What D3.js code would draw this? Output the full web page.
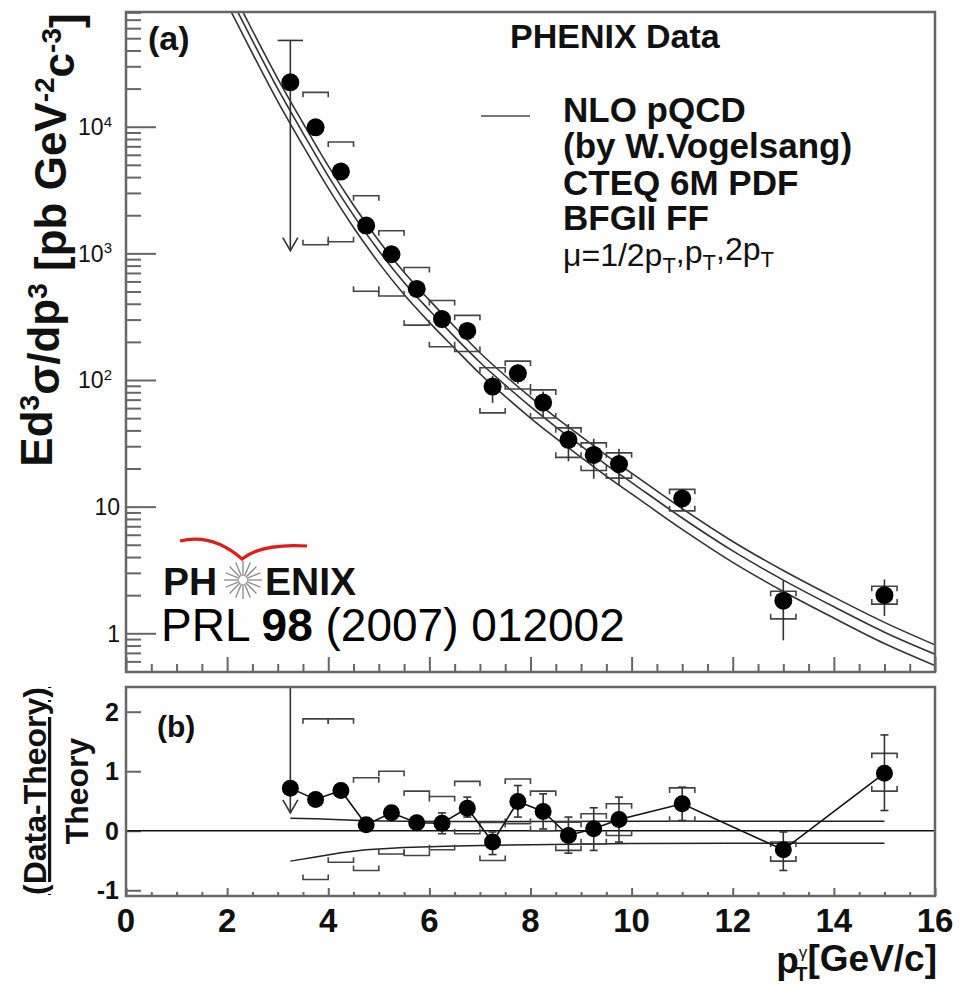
<!DOCTYPE html>
<html>
<head>
<meta charset="utf-8">
<script src="https://cdn.jsdelivr.net/npm/d3@7"></script>
<style>
  body { margin: 0; background: #fff; }
  svg { display: block; font-family: "Liberation Sans", Arial, Helvetica, sans-serif; }
</style>
</head>
<body>
<script>
// ---- measured points (PHENIX direct photons) ----
var pt      = [3.25, 3.75, 4.25, 4.75, 5.25, 5.75, 6.25, 6.75, 7.25, 7.75, 8.25, 8.75, 9.25, 9.75, 11, 13, 15];
var upperLimit = [1, 0, 0, 0, 0, 0, 0, 0, 0, 0, 0, 0, 0, 0, 0, 0, 0];
var xsec    = [22400, 9890, 4420, 1656, 984, 524, 303, 244, 88.7, 113, 66.4, 33.7, 25.6, 21.7, 11.6, 1.81, 2.0];
var statHi  = [48000, null, null, null, null, null, 350, 277, 108, 134, 81, 45, 34.4, 28.6, 13.8, 2.6, 2.66];
var statLo  = [1050, null, null, null, null, null, 256, 218, 66, 93.5, 51.6, 22.8, 16.6, 14.8, 9.36, 0.88, 1.37];
var sysHi   = [null, 18680, 7574, 2848, 1510, 773, 424, 324, 125, 141, 83.5, 41.9, 31.9, 26.6, 13.7, 2.15, 2.35];
var sysLo   = [null, 1168, 1236, 502, 461, 271, 183, 168, 55, 85, 50.1, 24.5, 19.3, 16.8, 9.26, 1.30, 1.70];

// ---- (Data-Theory)/Theory ----
var ratio   = [0.716, 0.526, 0.677, 0.10, 0.302, 0.134, 0.128, 0.38, -0.19, 0.49, 0.324, -0.079, 0.034, 0.19, 0.454, -0.32, 0.968];
var rStatHi = [2.8, null, null, null, null, null, 0.30, 0.565, -0.02, 0.76, 0.62, 0.23, 0.386, 0.565, 0.733, -0.02, 1.61];
var rStatLo = [0.3, null, null, null, null, null, -0.05, 0.23, -0.40, 0.23, 0.03, -0.376, -0.33, -0.19, 0.173, -0.667, 0.34];
var rSysHi  = [null, 1.88, 1.88, 0.89, 1.0, 0.666, 0.576, 0.83, 0.14, 0.87, 0.666, 0.145, 0.286, 0.454, 0.72, -0.19, 1.30];
var rSysLo  = [null, -0.82, -0.53, -0.667, -0.39, -0.415, -0.32, -0.05, -0.5, 0.12, 0.0, -0.33, -0.22, -0.08, 0.16, -0.51, 0.666];

// ---- NLO pQCD curves (mu = pT, 1/2 pT, 2 pT) ----
var thPt  = [2, 2.5, 3, 3.5, 4, 4.5, 5, 5.5, 6, 6.5, 7, 7.5, 8, 8.5, 9, 9.5, 10, 11, 12, 13, 14, 15, 16];
var thMid = [117500, 47860, 19950, 8913, 4074, 1995, 1047, 589, 355, 219, 138, 91.2, 61.7, 42.7, 30.2, 21.4, 15.5, 8.13, 4.47, 2.63, 1.62, 1.02, 0.684];
var thHi  = [141000, 57500, 24000, 10700, 4900, 2400, 1260, 708, 427, 263, 164, 108, 73.3, 50.7, 35.9, 25.4, 18.4, 9.66, 5.31, 3.13, 1.93, 1.22, 0.81];
var thLo  = [93300, 38000, 15850, 7080, 3270, 1600, 841, 473, 285, 178, 112, 74.1, 50.1, 34.7, 24.5, 17.4, 12.6, 6.61, 3.63, 2.14, 1.32, 0.83, 0.556];

// scale uncertainty band in the ratio panel
var bandPt = [3.25, 3.75, 4.25, 4.75, 5.5, 6.5, 8, 10, 12, 15];
var bandHi = [0.21, 0.20, 0.185, 0.17, 0.16, 0.155, 0.155, 0.16, 0.16, 0.16];
var bandLo = [-0.51, -0.44, -0.37, -0.32, -0.28, -0.255, -0.235, -0.215, -0.21, -0.21];

// ---- axes ----
var xTickVals  = [0, 2, 4, 6, 8, 10, 12, 14, 16];
var yTopTicks  = [1, 10, 100, 1000, 10000];
var yTopLabels = [["1", ""], ["10", ""], ["10", "2"], ["10", "3"], ["10", "4"]];
var yBotTicks  = [-1, 0, 1, 2];
var yBotLabels = ["-1", "0", "1", "2"];
var legendLines = ["NLO pQCD", "(by W.Vogelsang)", "CTEQ 6M PDF", "BFGII FF"];

var W = 970, H = 986;
var L = 126, R = 935;
var topY0 = 12, topY1 = 672, botY0 = 687, botY1 = 896;
var frameCol = "#666", inkCol = "#111";

var svg = d3.select("body").append("svg")
  .attr("width", W).attr("height", H);

var x = d3.scaleLinear().domain([0, 16]).range([L, R]);
var yTop = d3.scaleLog().domain([0.4947, 80500]).range([topY1, topY0]);
var yBot = d3.scaleLinear().domain([-1.096, 2.415]).range([botY1, botY0]);

var defs = svg.append("defs");
defs.append("clipPath").attr("id", "clipTop").append("rect")
  .attr("x", L).attr("y", topY0).attr("width", R - L).attr("height", topY1 - topY0);
defs.append("clipPath").attr("id", "clipBot").append("rect")
  .attr("x", L).attr("y", botY0).attr("width", R - L).attr("height", botY1 - botY0);

//========== TOP PANEL ==========
var gTop = svg.append("g");

// ticks on the left axis (inside the frame)
var minorTop = [];
[0.1, 1, 10, 100, 1000, 10000].forEach(function(d) {
  for (var k = 2; k <= 9; k++) {
    var v = d * k;
    if (v > yTop.domain()[0] && v < yTop.domain()[1]) minorTop.push(v);
  }
});
gTop.append("g").attr("transform", "translate(" + L + ",0)")
  .call(d3.axisRight(yTop).tickValues(minorTop).tickSize(15).tickFormat(""))
  .call(function(g) { g.select(".domain").remove(); g.selectAll("line").attr("stroke", frameCol).attr("stroke-width", 2); });
gTop.append("g").attr("transform", "translate(" + L + ",0)")
  .call(d3.axisRight(yTop).tickValues(yTopTicks).tickSize(30).tickFormat(""))
  .call(function(g) { g.select(".domain").remove(); g.selectAll("line").attr("stroke", frameCol).attr("stroke-width", 2); });

// ticks on the bottom axis (pointing up)
var xMinor = d3.range(0.5, 16, 0.5).filter(function(v) { return v % 2 !== 0; });
function xTicks(g, y0, bigLen, smallLen) {
  g.append("g").attr("transform", "translate(0," + y0 + ")")
    .call(d3.axisTop(x).tickValues(xMinor).tickSize(smallLen).tickFormat(""))
    .call(function(s) { s.select(".domain").remove(); s.selectAll("line").attr("stroke", frameCol).attr("stroke-width", 2); });
  g.append("g").attr("transform", "translate(0," + y0 + ")")
    .call(d3.axisTop(x).tickValues(xTickVals).tickSize(bigLen).tickFormat(""))
    .call(function(s) { s.select(".domain").remove(); s.selectAll("line").attr("stroke", frameCol).attr("stroke-width", 2); });
}
xTicks(gTop, topY1, 15, 8);

// y tick labels with powers of ten
yTopTicks.forEach(function(v, i) {
  var lab = yTopLabels[i];
  var t = gTop.append("text")
    .attr("x", lab[1] ? 112 : 120).attr("y", yTop(v)).attr("dy", "0.36em")
    .attr("text-anchor", "end").style("font-size", "23px").attr("fill", inkCol)
    .text(lab[0]);
  if (lab[1]) {
    t.append("tspan").attr("dy", "-0.55em").style("font-size", "15px").text(lab[1]);
  }
});

// theory curves
var thLine = d3.line()
  .x(function(d) { return x(d[0]); })
  .y(function(d) { return yTop(d[1]); })
  .curve(d3.curveMonotoneX);
var curves = gTop.append("g").attr("clip-path", "url(#clipTop)");
[thHi, thMid, thLo].forEach(function(arr) {
  curves.append("path")
    .attr("d", thLine(thPt.map(function(p, i) { return [p, arr[i]]; })))
    .attr("fill", "none").attr("stroke", "#333").attr("stroke-width", 1.6);
});

// data: systematic brackets, statistical bars, markers
var marks = gTop.append("g").attr("clip-path", "url(#clipTop)");
function bracket(g, xc, yPix, dir) {
  var x0 = x(xc - 0.25), x1 = x(xc + 0.25);
  g.append("path")
    .attr("d", "M" + x0 + "," + (yPix + dir * 5) + "L" + x0 + "," + yPix + "L" + x1 + "," + yPix + "L" + x1 + "," + (yPix + dir * 5))
    .attr("fill", "none").attr("stroke", "#444").attr("stroke-width", 1.6);
}
function arrowHead(g, xp, yp) {
  g.append("path")
    .attr("d", "M" + (xp - 7.5) + "," + (yp - 13) + "L" + xp + "," + yp + "L" + (xp + 7.5) + "," + (yp - 13))
    .attr("fill", "none").attr("stroke", "#333").attr("stroke-width", 1.6);
}

pt.forEach(function(p, i) {
  var xp = x(p);
  if (sysHi[i] != null) bracket(marks, p, yTop(sysHi[i]), 1);
  if (sysLo[i] != null) bracket(marks, p, yTop(sysLo[i]), -1);
  if (statHi[i] != null) {
    marks.append("line")
      .attr("x1", xp).attr("x2", xp)
      .attr("y1", yTop(statHi[i])).attr("y2", yTop(statLo[i]))
      .attr("stroke", "#333").attr("stroke-width", 1.6);
  }
  if (upperLimit[i]) {
    marks.append("line")
      .attr("x1", x(p - 0.25)).attr("x2", x(p + 0.25))
      .attr("y1", yTop(statHi[i])).attr("y2", yTop(statHi[i]))
      .attr("stroke", "#333").attr("stroke-width", 1.6);
    arrowHead(marks, xp, yTop(statLo[i]));
  }
});
marks.selectAll("circle").data(pt).enter().append("circle")
  .attr("cx", function(d) { return x(d); })
  .attr("cy", function(d, i) { return yTop(xsec[i]); })
  .attr("r", 9).attr("fill", "#000");

// frame
gTop.append("rect").attr("x", L).attr("y", topY0).attr("width", R - L).attr("height", topY1 - topY0)
  .attr("fill", "none").attr("stroke", frameCol).attr("stroke-width", 2.5);

// y title
var yt = svg.append("text")
  .attr("transform", "translate(52,240) rotate(-90)")
  .attr("text-anchor", "middle")
  .style("font-size", "44px").style("font-weight", "bold").attr("fill", inkCol);
yt.append("tspan").text("Ed");
yt.append("tspan").attr("dy", "-0.45em").style("font-size", "28px").text("3");
yt.append("tspan").attr("dy", "0.45em").text("\u03C3/dp");
yt.append("tspan").attr("dy", "-0.45em").style("font-size", "28px").text("3");
yt.append("tspan").attr("dy", "0.45em").text(" [pb GeV");
yt.append("tspan").attr("dy", "-0.45em").style("font-size", "28px").text("-2");
yt.append("tspan").attr("dy", "0.45em").text("c");
yt.append("tspan").attr("dy", "-0.45em").style("font-size", "28px").text("-3");
yt.append("tspan").attr("dy", "0.45em").text("]");

// panel label and legend
svg.append("text").attr("x", 148).attr("y", 50)
  .style("font-size", "34px").style("font-weight", "bold").attr("fill", inkCol).text("(a)");
svg.append("text").attr("x", 510).attr("y", 48)
  .style("font-size", "34px").style("font-weight", "bold").attr("fill", inkCol).text("PHENIX Data");
svg.append("line").attr("x1", 481).attr("x2", 530).attr("y1", 116).attr("y2", 116)
  .attr("stroke", "#777").attr("stroke-width", 2);
var legBase = [122, 158, 195, 230];
legendLines.forEach(function(s, i) {
  svg.append("text").attr("x", 563).attr("y", legBase[i])
    .style("font-size", "35px").style("font-weight", "bold").attr("fill", inkCol).text(s);
});
var mu = svg.append("text").attr("x", 563).attr("y", 266)
  .style("font-size", "32px").attr("fill", inkCol);
mu.append("tspan").text("\u03BC=1/2p");
mu.append("tspan").attr("dy", "0.3em").style("font-size", "22px").text("T");
mu.append("tspan").attr("dy", "-0.3em").text(",p");
mu.append("tspan").attr("dy", "0.3em").style("font-size", "22px").text("T");
mu.append("tspan").attr("dy", "-0.3em").text(",2p");
mu.append("tspan").attr("dy", "0.3em").style("font-size", "22px").text("T");

// PHENIX logo
var logo = svg.append("g");
logo.append("path")
  .attr("d", "M180,541 C205,535 226,545 242,559 C256,548 276,544 307,546")
  .attr("fill", "none").attr("stroke", "#e41a1a").attr("stroke-width", 3.2);
logo.append("text").attr("x", 163).attr("y", 595)
  .style("font-size", "39px").style("font-weight", "bold").attr("fill", "#111").text("PH");
logo.append("text").attr("x", 265).attr("y", 595)
  .style("font-size", "39px").style("font-weight", "bold").attr("fill", "#111").text("ENIX");
d3.range(16).forEach(function(k) {
  var a = k * Math.PI / 8;
  logo.append("line")
    .attr("x1", 243 + 4 * Math.cos(a)).attr("y1", 580 + 4 * Math.sin(a))
    .attr("x2", 243 + 19 * Math.cos(a)).attr("y2", 580 + 19 * Math.sin(a))
    .attr("stroke", "#888").attr("stroke-width", 1.3);
});
var prl = svg.append("text").attr("x", 161).attr("y", 641)
  .style("font-size", "46px").attr("fill", "#000");
prl.append("tspan").text("PRL ");
prl.append("tspan").style("font-weight", "bold").text("98");
prl.append("tspan").text(" (2007) 012002");

//========== BOTTOM PANEL ==========
var gBot = svg.append("g");
xTicks(gBot, botY1, 8, 4);
gBot.append("g").attr("transform", "translate(" + L + ",0)")
  .call(d3.axisRight(yBot).tickValues(yBotTicks).tickSize(15).tickFormat(""))
  .call(function(g) { g.select(".domain").remove(); g.selectAll("line").attr("stroke", frameCol).attr("stroke-width", 2); });

yBotTicks.forEach(function(v, i) {
  gBot.append("text").attr("x", 119).attr("y", yBot(v)).attr("dy", "0.36em")
    .attr("text-anchor", "end").style("font-size", "25px").style("font-weight", "bold")
    .attr("fill", inkCol).text(yBotLabels[i]);
});

var bmarks = gBot.append("g").attr("clip-path", "url(#clipBot)");
bmarks.append("line").attr("x1", L).attr("x2", R).attr("y1", yBot(0)).attr("y2", yBot(0))
  .attr("stroke", "#111").attr("stroke-width", 1.6);

var bandLine = d3.line()
  .x(function(d) { return x(d[0]); })
  .y(function(d) { return yBot(d[1]); });
[bandHi, bandLo].forEach(function(arr) {
  bmarks.append("path")
    .attr("d", bandLine(bandPt.map(function(p, i) { return [p, arr[i]]; })))
    .attr("fill", "none").attr("stroke", "#222").attr("stroke-width", 1.5);
});

pt.forEach(function(p, i) {
  var xp = x(p);
  if (rSysHi[i] != null) bracket(bmarks, p, yBot(rSysHi[i]), 1);
  if (rSysLo[i] != null) bracket(bmarks, p, yBot(rSysLo[i]), -1);
  if (rStatHi[i] != null) {
    bmarks.append("line")
      .attr("x1", xp).attr("x2", xp)
      .attr("y1", yBot(rStatHi[i])).attr("y2", yBot(rStatLo[i]))
      .attr("stroke", "#333").attr("stroke-width", 1.6);
    if (upperLimit[i]) {
      arrowHead(bmarks, xp, yBot(rStatLo[i]));
    } else {
      [rStatHi[i], rStatLo[i]].forEach(function(v) {
        bmarks.append("line").attr("x1", xp - 4).attr("x2", xp + 4)
          .attr("y1", yBot(v)).attr("y2", yBot(v))
          .attr("stroke", "#333").attr("stroke-width", 1.6);
      });
    }
  }
});

bmarks.append("path")
  .attr("d", d3.line()
    .x(function(d) { return x(d); })
    .y(function(d, i) { return yBot(ratio[i]); })(pt))
  .attr("fill", "none").attr("stroke", "#111").attr("stroke-width", 1.6);
bmarks.selectAll("circle").data(pt).enter().append("circle")
  .attr("cx", function(d) { return x(d); })
  .attr("cy", function(d, i) { return yBot(ratio[i]); })
  .attr("r", 8.5).attr("fill", "#000");

gBot.append("rect").attr("x", L).attr("y", botY0).attr("width", R - L).attr("height", botY1 - botY0)
  .attr("fill", "none").attr("stroke", frameCol).attr("stroke-width", 2.5);

svg.append("text").attr("x", 157).attr("y", 737)
  .style("font-size", "30px").style("font-weight", "bold").attr("fill", inkCol).text("(b)");

// x tick labels
xTickVals.forEach(function(v) {
  svg.append("text").attr("x", x(v)).attr("y", 932)
    .attr("text-anchor", "middle").style("font-size", "33px").style("font-weight", "bold")
    .attr("fill", inkCol).text(v);
});

// x title: p with gamma above and T below, then the unit
var xt = svg.append("text").attr("x", 937).attr("y", 973)
  .attr("text-anchor", "end").style("font-size", "37px").style("font-weight", "bold").attr("fill", inkCol);
xt.append("tspan").text("p");
xt.append("tspan").attr("dy", "-0.9em").style("font-size", "17px").style("font-weight", "normal").text("\u03B3");
xt.append("tspan").attr("dx", "-0.6em").attr("dy", "1.15em").style("font-size", "20px").text("T");
xt.append("tspan").attr("dy", "-0.25em").text("[GeV/c]");

// ratio title
svg.append("text")
  .attr("transform", "translate(46,791) rotate(-90)")
  .attr("text-anchor", "middle")
  .style("font-size", "32px").style("font-weight", "bold").style("text-decoration", "underline")
  .attr("fill", inkCol).text("(Data-Theory)");
svg.append("text")
  .attr("transform", "translate(88,791) rotate(-90)")
  .attr("text-anchor", "middle")
  .style("font-size", "32px").style("font-weight", "bold")
  .attr("fill", inkCol).text("Theory");
</script>
</body>
</html>
